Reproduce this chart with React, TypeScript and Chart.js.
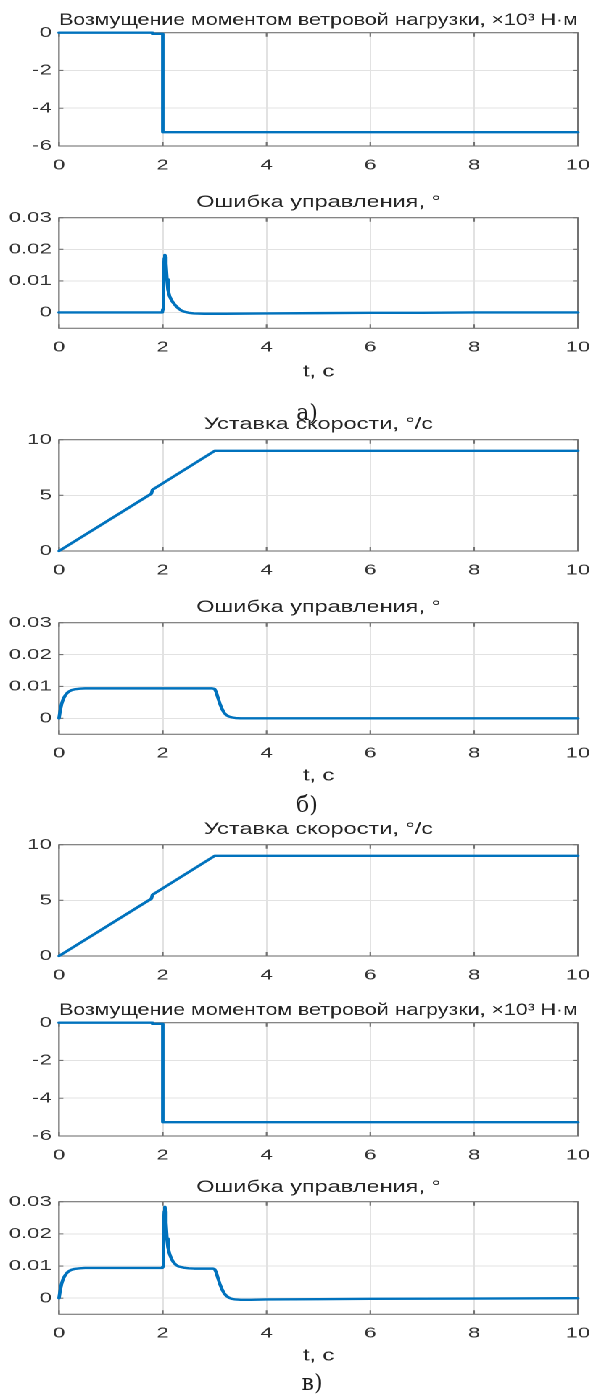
import React, { useEffect, useRef } from 'react';
import { Chart, registerables } from 'chart.js';

Chart.register(...registerables);

// ---------- data ----------
const xTickValues = [0, 2, 4, 6, 8, 10];
const windYTicks = [0, -2, -4, -6];
const errorYTicks = [0, 0.01, 0.02, 0.03];
const speedYTicks = [0, 5, 10];

// wind-load torque disturbance, x10^3 N·m
const windTime = [0, 1.8, 1.8, 2.0, 2.0, 10];
const windTorque = [0, 0, -0.06, -0.06, -5.27, -5.27];

// speed set-point, deg/s
const speedTime = [0, 1.78, 1.8, 3.0, 10];
const speedValue = [0, 5.15, 5.5, 9.0, 9.0];

// control error, case a)
const errATime = [0, 1.99, 2.0, 2.01, 2.02, 2.03, 2.04, 2.05, 2.06, 2.08, 2.1, 2.13, 2.16, 2.2, 2.25, 2.3, 2.35, 2.4, 2.5, 2.6, 2.8, 3.2, 4.0, 5.0, 6.0, 7.0, 8.0, 10];
const errAValue = [0, 0, 0.001, 0.006, 0.0125, 0.0172, 0.0182, 0.0176, 0.0155, 0.0105, 0.0072, 0.0052, 0.0041, 0.0031, 0.0021, 0.0013, 0.0007, 0.0003, -0.0001, -0.0003, -0.0004, -0.0004, -0.0003, -0.0002, -0.0001, -0.0001, 0, 0];

// control error, case б)
const errBTime = [0, 0.02, 0.05, 0.08, 0.12, 0.16, 0.2, 0.25, 0.3, 0.4, 0.5, 0.7, 1.0, 2.0, 2.95, 3.0, 3.03, 3.06, 3.1, 3.14, 3.18, 3.22, 3.27, 3.33, 3.4, 3.5, 3.7, 4.0, 6.0, 10];
const errBValue = [0, 0.0022, 0.0045, 0.006, 0.0072, 0.008, 0.0085, 0.0089, 0.0091, 0.0093, 0.0094, 0.0094, 0.0094, 0.0094, 0.0094, 0.0092, 0.0082, 0.0066, 0.0046, 0.003, 0.0018, 0.0011, 0.0006, 0.0003, 0.0001, 0, 0, 0, 0, 0];

// control error, case в)
const errCTime = [0, 0.02, 0.05, 0.08, 0.12, 0.16, 0.2, 0.25, 0.3, 0.4, 0.5, 0.7, 1.0, 1.5, 1.99, 2.0, 2.01, 2.02, 2.03, 2.04, 2.05, 2.06, 2.08, 2.1, 2.13, 2.16, 2.2, 2.25, 2.3, 2.4, 2.5, 2.6, 2.8, 2.97, 3.0, 3.03, 3.06, 3.1, 3.14, 3.18, 3.22, 3.27, 3.33, 3.4, 3.5, 3.7, 4.0, 5.0, 6.0, 8.0, 10];
const errCValue = [0, 0.0022, 0.0045, 0.006, 0.0072, 0.008, 0.0085, 0.0089, 0.0091, 0.0093, 0.0094, 0.0094, 0.0094, 0.0094, 0.0094, 0.0098, 0.015, 0.022, 0.027, 0.0284, 0.027, 0.0235, 0.0185, 0.0158, 0.0138, 0.0125, 0.0113, 0.0104, 0.0099, 0.0095, 0.0093, 0.0092, 0.0092, 0.0092, 0.009, 0.008, 0.0064, 0.0044, 0.0028, 0.0016, 0.0008, 0.0002, -0.0002, -0.0004, -0.0005, -0.0005, -0.0004, -0.0003, -0.0002, -0.0001, 0];

const titleWind = 'Возмущение моментом ветровой нагрузки, ×10³ Н·м';
const titleError = 'Ошибка управления, °';
const titleSpeed = 'Уставка скорости, °/с';
const xAxisLabel = 't, с';
const captions = ['а)', 'б)', 'в)'];

// ---------- layout / style ----------
const PAGE_W = 606;
const PAGE_H = 1398;
const STRETCH = 1.45;
const INNER_W = PAGE_W / STRETCH;
const PLOT_L = 59 / STRETCH;
const PLOT_R = 591 / STRETCH;
const FONT = "'Liberation Sans', Arial, sans-serif";
const TICK_SIZE = 15.2;
const TITLE_SIZE = 16.2;
const LINE_COLOR = '#0072BD';

type PanelDef = {
  title: string;
  t: number[];
  v: number[];
  yMin: number;
  yMax: number;
  yTicks: number[];
  top: number;
  bottom: number;
  titleY: number;
  xTitleY?: number;
};

const panels: PanelDef[] = [
  { title: titleWind, t: windTime, v: windTorque, yMin: -6, yMax: 0, yTicks: windYTicks, top: 33, bottom: 147, titleY: 21 },
  { title: titleError, t: errATime, v: errAValue, yMin: -0.005, yMax: 0.03, yTicks: errorYTicks, top: 218, bottom: 329, titleY: 203, xTitleY: 373 },
  { title: titleSpeed, t: speedTime, v: speedValue, yMin: 0, yMax: 10, yTicks: speedYTicks, top: 440, bottom: 552, titleY: 425 },
  { title: titleError, t: errBTime, v: errBValue, yMin: -0.005, yMax: 0.03, yTicks: errorYTicks, top: 623, bottom: 735, titleY: 608, xTitleY: 777 },
  { title: titleSpeed, t: speedTime, v: speedValue, yMin: 0, yMax: 10, yTicks: speedYTicks, top: 845, bottom: 957, titleY: 830 },
  { title: titleWind, t: windTime, v: windTorque, yMin: -6, yMax: 0, yTicks: windYTicks, top: 1023, bottom: 1137, titleY: 1011 },
  { title: titleError, t: errCTime, v: errCValue, yMin: -0.005, yMax: 0.03, yTicks: errorYTicks, top: 1202, bottom: 1315, titleY: 1188, xTitleY: 1357 },
];

const captionPos = [
  { x: 307, y: 413 },
  { x: 307, y: 805 },
  { x: 312, y: 1383 },
];

const boxPlugin = {
  id: 'matlabBox',
  beforeDatasetsDraw(chart: any) {
    const { ctx, chartArea, scales } = chart;
    const { left, right, top, bottom } = chartArea;
    ctx.save();
    ctx.strokeStyle = '#737373';
    ctx.lineWidth = 1.1;
    ctx.beginPath();
    scales.x.ticks.forEach((tk: any) => {
      const px = scales.x.getPixelForValue(tk.value);
      ctx.moveTo(px, bottom);
      ctx.lineTo(px, bottom - 4);
      ctx.moveTo(px, top);
      ctx.lineTo(px, top + 4);
    });
    scales.y.ticks.forEach((tk: any) => {
      const py = scales.y.getPixelForValue(tk.value);
      ctx.moveTo(left, py);
      ctx.lineTo(left + 3, py);
      ctx.moveTo(right, py);
      ctx.lineTo(right - 3, py);
    });
    ctx.stroke();
    ctx.strokeRect(left, top, right - left, bottom - top);
    ctx.restore();
  },
};

function Panel({ def }: { def: PanelDef }) {
  const ref = useRef<HTMLCanvasElement | null>(null);
  const lh = TITLE_SIZE * 1.2;
  const padTop = 2;
  const padBottom = def.top - def.titleY - lh / 2;
  const titleBox = lh + padTop + padBottom;
  const xH = def.xTitleY !== undefined ? def.xTitleY - def.bottom + lh / 2 : 32;
  const canvasTop = def.top - titleBox;
  const canvasH = titleBox + (def.bottom - def.top) + xH;

  useEffect(() => {
    if (!ref.current) return;
    const points = def.t.map((x, i) => ({ x, y: def.v[i] }));
    const chart = new Chart(ref.current, {
      type: 'line',
      data: {
        datasets: [
          {
            data: points,
            borderColor: LINE_COLOR,
            backgroundColor: LINE_COLOR,
            borderWidth: 2.4,
            borderJoinStyle: 'round',
            borderCapStyle: 'round',
            pointRadius: 0,
            tension: 0,
            fill: false,
            clip: false as any,
          },
        ],
      },
      options: {
        animation: false,
        responsive: false,
        devicePixelRatio: 2,
        layout: { padding: { top: 0, left: 0, right: INNER_W - PLOT_R, bottom: 0 } },
        plugins: {
          legend: { display: false },
          tooltip: { enabled: false },
          title: {
            display: true,
            text: def.title,
            fullSize: false,
            color: '#262626',
            font: { family: FONT, size: TITLE_SIZE, weight: 'normal' },
            padding: { top: padTop, bottom: padBottom },
          },
        },
        scales: {
          x: {
            type: 'linear',
            min: 0,
            max: 10,
            afterBuildTicks: (s: any) => {
              s.ticks = xTickValues.map((value) => ({ value }));
            },
            afterFit: (s: any) => {
              s.height = xH;
            },
            border: { display: false },
            grid: { color: '#e2e2e2', lineWidth: 1, drawTicks: false },
            ticks: {
              color: '#333333',
              font: { family: FONT, size: TICK_SIZE },
              padding: 10,
              maxRotation: 0,
              autoSkip: false,
              callback: (v: any) => String(v),
            },
            title: {
              display: def.xTitleY !== undefined,
              text: xAxisLabel,
              color: '#262626',
              font: { family: FONT, size: TITLE_SIZE },
              padding: { top: 0, bottom: 0 },
            },
          },
          y: {
            type: 'linear',
            min: def.yMin,
            max: def.yMax,
            afterBuildTicks: (s: any) => {
              s.ticks = def.yTicks.map((value) => ({ value }));
            },
            afterFit: (s: any) => {
              s.width = PLOT_L;
            },
            border: { display: false },
            grid: { color: '#e2e2e2', lineWidth: 1, drawTicks: false },
            ticks: {
              color: '#333333',
              font: { family: FONT, size: TICK_SIZE },
              padding: 5,
              autoSkip: false,
              callback: (v: any) => String(v),
            },
          },
        },
      },
      plugins: [boxPlugin],
    } as any);
    return () => chart.destroy();
  }, []);

  return (
    <div style={{ position: 'absolute', left: 0, top: canvasTop, width: INNER_W, height: canvasH }}>
      <canvas ref={ref} width={INNER_W} height={canvasH} />
    </div>
  );
}

export default function App() {
  return (
    <div
      style={{
        position: 'absolute',
        left: 0,
        top: 0,
        width: PAGE_W,
        height: PAGE_H,
        background: '#ffffff',
        overflow: 'hidden',
      }}
    >
      <div
        style={{
          position: 'absolute',
          left: 0,
          top: 0,
          width: INNER_W,
          height: PAGE_H,
          transform: `scaleX(${STRETCH})`,
          transformOrigin: '0 0',
        }}
      >
        {panels.map((p, i) => (
          <Panel key={i} def={p} />
        ))}
      </div>
      {captions.map((c, i) => (
        <div
          key={c}
          style={{
            position: 'absolute',
            left: captionPos[i].x - 50,
            top: captionPos[i].y - 14,
            width: 100,
            height: 28,
            lineHeight: '28px',
            textAlign: 'center',
            fontFamily: "'DejaVu Serif', serif",
            fontSize: 22,
            color: '#1e1e1e',
          }}
        >
          {c}
        </div>
      ))}
    </div>
  );
}
